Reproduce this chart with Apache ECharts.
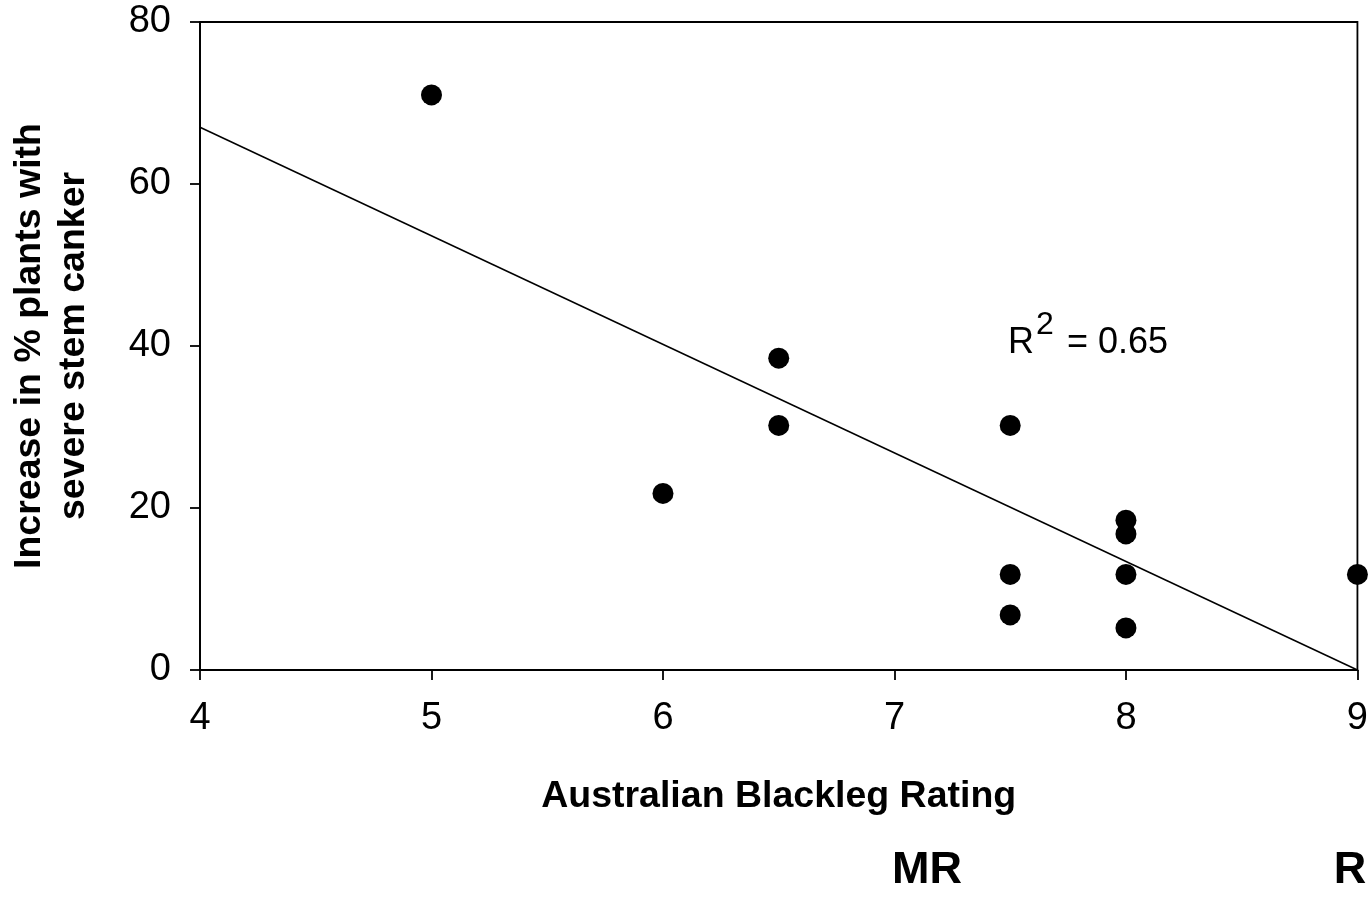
<!DOCTYPE html>
<html>
<head>
<meta charset="utf-8">
<script src="https://cdn.jsdelivr.net/npm/echarts@6/dist/echarts.min.js"></script>
<style>
html,body{margin:0;padding:0;background:#fff;}
#chart{width:1371px;height:898px;}
</style>
</head>
<body>
<div id="chart"></div>
<script>
// Data
var ratings = [5, 6, 6.5, 6.5, 7.5, 7.5, 7.5, 8, 8, 8, 8, 9];
var increase = [71, 21.8, 38.5, 30.2, 30.2, 11.8, 6.8, 18.5, 16.8, 11.8, 5.2, 11.8];
var fitX = [4, 9];
var fitY = [67.0, 0];
var xTitle = 'Australian Blackleg Rating';
var yTitle = 'Increase in % plants with\nsevere stem canker';
var r2Label = ['R', '2', '= 0.65'];
var classLabels = ['MR', 'R'];

var FONT = '"Liberation Sans", Arial, Helvetica, sans-serif';
var points = ratings.map(function (x, i) { return [x, increase[i]]; });
var fitLine = fitX.map(function (x, i) { return [x, fitY[i]]; });

var chart = echarts.init(document.getElementById('chart'), null, {renderer: 'canvas'});
chart.setOption({
  animation: false,
  backgroundColor: '#ffffff',
  grid: {
    left: 200, right: 13, top: 22, bottom: 228,
    show: true, borderColor: '#000', borderWidth: 1.8, backgroundColor: 'transparent'
  },
  xAxis: {
    type: 'value', min: 4, max: 9, interval: 1,
    name: xTitle, nameLocation: 'middle', nameGap: 108,
    nameTextStyle: {fontFamily: FONT, fontWeight: 'bold', fontSize: 37.5, color: '#000'},
    axisLine: {show: true, onZero: false, lineStyle: {color: '#000', width: 1.8}},
    axisTick: {show: true, length: 10, lineStyle: {color: '#000', width: 1.8}},
    axisLabel: {margin: 30, fontFamily: FONT, fontSize: 38, color: '#000'},
    splitLine: {show: false}
  },
  yAxis: {
    type: 'value', min: 0, max: 80, interval: 20,
    name: yTitle, nameLocation: 'middle', nameGap: 104, nameRotate: 90,
    nameTextStyle: {fontFamily: FONT, fontWeight: 'bold', fontSize: 37.5, lineHeight: 44, color: '#000', align: 'center'},
    axisLine: {show: true, onZero: false, lineStyle: {color: '#000', width: 1.8}},
    axisTick: {show: true, length: 10, lineStyle: {color: '#000', width: 1.8}},
    axisLabel: {margin: 29, fontFamily: FONT, fontSize: 38, color: '#000'},
    splitLine: {show: false}
  },
  series: [
    {
      type: 'line', data: fitLine, symbol: 'none', silent: true,
      lineStyle: {color: '#000', width: 1.5}, z: 2
    },
    {
      type: 'scatter', data: points, symbol: 'circle', symbolSize: 21,
      itemStyle: {color: '#000', opacity: 1}, z: 3
    }
  ],
  graphic: [
    {type: 'text', left: 1008, top: 325, style: {text: r2Label[0], font: '36px ' + FONT, fill: '#000'}},
    {type: 'text', left: 1036, top: 309, style: {text: r2Label[1], font: '32px ' + FONT, fill: '#000'}},
    {type: 'text', left: 1067, top: 325, style: {text: r2Label[2], font: '36px ' + FONT, fill: '#000'}},
    {type: 'text', x: 927, y: 871, style: {text: classLabels[0], font: 'bold 45px ' + FONT, fill: '#000', align: 'center', verticalAlign: 'middle'}},
    {type: 'text', x: 1350, y: 871, style: {text: classLabels[1], font: 'bold 45px ' + FONT, fill: '#000', align: 'center', verticalAlign: 'middle'}}
  ]
});
</script>
</body>
</html>
